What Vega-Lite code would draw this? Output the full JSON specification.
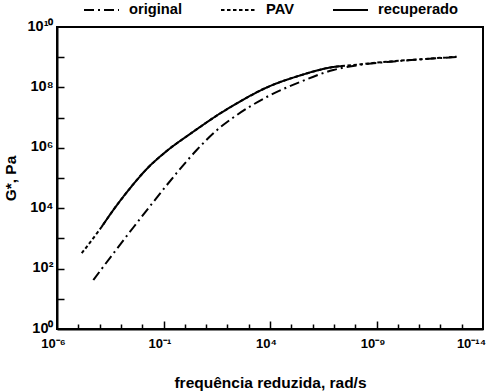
{
  "$schema": "https://vega.github.io/schema/vega-lite/v6.json",
  "width": 426,
  "height": 302,
  "autosize": {"type": "none"},
  "padding": {"left": 57, "top": 27, "right": 5, "bottom": 62},
  "config": {
    "view": {"stroke": "black", "strokeWidth": 2},
    "font": "Liberation Sans",
    "axis": {"domainColor": "black", "domainWidth": 2, "labelColor": "black", "titleColor": "black", "labelFont": "Liberation Sans", "titleFont": "Liberation Sans", "labelFontWeight": "bold", "titleFontWeight": "bold", "grid": false}
  },
  "data": {"values": [
    {"serie": "original", "w": 5.06e-5, "g": 41.9},
    {"serie": "original", "w": 4.40e-4, "g": 316},
    {"serie": "original", "w": 3.82e-3, "g": 2296},
    {"serie": "original", "w": 3.32e-2, "g": 16030},
    {"serie": "original", "w": 0.417, "g": 146600},
    {"serie": "original", "w": 3.62, "g": 845000},
    {"serie": "original", "w": 45.0, "g": 4700000},
    {"serie": "original", "w": 189.2, "g": 10070000},
    {"serie": "original", "w": 7000, "g": 48100000},
    {"serie": "original", "w": 256000, "g": 151000000},
    {"serie": "original", "w": 9380000, "g": 377000000},
    {"serie": "original", "w": 7.89e7, "g": 5.12e8},
    {"serie": "original", "w": 3.01e9, "g": 6.93e8},
    {"serie": "original", "w": 1.10e11, "g": 8.39e8},
    {"serie": "original", "w": 5.82e12, "g": 1.016e9},
    {"serie": "PAV", "w": 1.45e-5, "g": 324},
    {"serie": "PAV", "w": 1.256e-4, "g": 2438},
    {"serie": "PAV", "w": 4.40e-4, "g": 8710},
    {"serie": "PAV", "w": 2.67e-3, "g": 45600},
    {"serie": "PAV", "w": 1.626e-2, "g": 198600},
    {"serie": "PAV", "w": 0.1413, "g": 783000},
    {"serie": "PAV", "w": 1.754, "g": 2864000},
    {"serie": "PAV", "w": 5.18, "g": 4887000},
    {"serie": "PAV", "w": 45.0, "g": 13680000},
    {"serie": "PAV", "w": 189.2, "g": 25200000},
    {"serie": "PAV", "w": 7000, "g": 99300000},
    {"serie": "PAV", "w": 256000, "g": 248000000},
    {"serie": "PAV", "w": 9380000, "g": 473000000},
    {"serie": "PAV", "w": 8.15e7, "g": 5.52e8},
    {"serie": "PAV", "w": 3.01e9, "g": 7.10e8},
    {"serie": "PAV", "w": 1.10e11, "g": 8.51e8},
    {"serie": "PAV", "w": 5.82e12, "g": 1.04e9},
    {"serie": "recuperado", "w": 1.256e-4, "g": 2438},
    {"serie": "recuperado", "w": 4.40e-4, "g": 8710},
    {"serie": "recuperado", "w": 2.67e-3, "g": 45600},
    {"serie": "recuperado", "w": 1.626e-2, "g": 198600},
    {"serie": "recuperado", "w": 0.1413, "g": 783000},
    {"serie": "recuperado", "w": 1.754, "g": 2864000},
    {"serie": "recuperado", "w": 5.18, "g": 4887000},
    {"serie": "recuperado", "w": 45.0, "g": 13680000},
    {"serie": "recuperado", "w": 189.2, "g": 25200000},
    {"serie": "recuperado", "w": 7000, "g": 99300000},
    {"serie": "recuperado", "w": 256000, "g": 248000000},
    {"serie": "recuperado", "w": 9380000, "g": 473000000},
    {"serie": "recuperado", "w": 2.67e7, "g": 5.13e8}
  ]},
  "layer": [
    {
      "mark": {"type": "line", "color": "black", "strokeWidth": 2, "interpolate": "monotone", "clip": true},
      "encoding": {
        "x": {
          "field": "w", "type": "quantitative",
          "scale": {"type": "log", "domain": [1e-6, 1e14], "nice": false},
          "axis": {
            "orient": "bottom",
            "title": "frequência reduzida, rad/s",
            "titleFontSize": 15.5,
            "titlePadding": 25,
            "values": [1e-6, 1e-1, 1e4, 1e9, 1e14],
            "labelExpr": "round(log(datum.value)/LN10)==-6 ? '10⁻⁶' : round(log(datum.value)/LN10)==-1 ? '10⁻¹' : round(log(datum.value)/LN10)==4 ? '10⁴' : round(log(datum.value)/LN10)==9 ? '10⁻⁹' : '10⁻¹⁴'",
            "labelFontSize": 13,
            "labelFlush": false,
            "labelOverlap": false,
            "labelPadding": 8,
            "labelOffset": {"condition": {"test": "datum.value > 1e13", "value": -12}, "value": -4},
            "ticks": false
          }
        },
        "y": {
          "field": "g", "type": "quantitative",
          "scale": {"type": "log", "domain": [1, 1e10], "nice": false},
          "axis": {
            "orient": "left",
            "title": "G*, Pa",
            "titleFontSize": 15.5,
            "titlePadding": 9,
            "values": [1, 100, 1e4, 1e6, 1e8, 1e10],
            "labelExpr": "round(log(datum.value)/LN10)==0 ? '10⁰' : round(log(datum.value)/LN10)==2 ? '10²' : round(log(datum.value)/LN10)==4 ? '10⁴' : round(log(datum.value)/LN10)==6 ? '10⁶' : round(log(datum.value)/LN10)==8 ? '10⁸' : '10¹⁰'",
            "labelFontSize": 14.5,
            "labelFlush": false,
            "labelOverlap": false,
            "labelPadding": 4,
            "labelOffset": -1,
            "ticks": false
          }
        },
        "strokeDash": {
          "field": "serie", "type": "nominal",
          "scale": {"domain": ["original", "PAV", "recuperado"], "range": [[10, 4, 2, 4], [3.5, 2.5], [1, 0]]},
          "legend": {
            "orient": "none", "legendX": 26, "legendY": -36, "direction": "horizontal", "title": null,
            "symbolType": "stroke", "symbolSize": 1225, "symbolStrokeWidth": 2, "symbolStrokeColor": "black",
            "labelFontSize": 14.7, "labelFontWeight": "bold", "labelColor": "black", "labelOffset": 9,
            "columnPadding": 34
          }
        }
      }
    },
    {
      "mark": {"type": "line", "opacity": 0},
      "encoding": {
        "x": {
          "field": "w", "type": "quantitative",
          "scale": {"type": "log", "domain": [1e-6, 1e14], "nice": false},
          "axis": {"orient": "bottom", "offset": -8, "ticks": true, "tickSize": 8, "tickWidth": 1.5, "tickColor": "black", "domain": false, "labels": false, "title": null, "values": [1e-1, 1e4, 1e9]}
        },
        "y": {
          "field": "g", "type": "quantitative",
          "scale": {"type": "log", "domain": [1, 1e10], "nice": false},
          "axis": {"orient": "left", "offset": -7, "ticks": true, "tickSize": 7, "tickWidth": 1.5, "tickColor": "black", "domain": false, "labels": false, "title": null, "values": [10, 100, 1000, 1e4, 1e5, 1e6, 1e7, 1e8, 1e9]}
        }
      }
    },
    {
      "mark": {"type": "line", "opacity": 0},
      "encoding": {
        "x": {
          "field": "w", "type": "quantitative",
          "scale": {"type": "log", "domain": [1e-6, 1e14], "nice": false},
          "axis": {"orient": "bottom", "offset": -5, "ticks": true, "tickSize": 5, "tickWidth": 1.5, "tickColor": "black", "domain": false, "labels": false, "title": null, "values": [1e-5, 1e-4, 1e-3, 1e-2, 1, 10, 100, 1000, 1e5, 1e6, 1e7, 1e8, 1e10, 1e11, 1e12, 1e13]}
        },
        "y": {
          "field": "g", "type": "quantitative",
          "scale": {"type": "log", "domain": [1, 1e10], "nice": false},
          "axis": null
        }
      }
    }
  ],
  "resolve": {"axis": {"x": "independent", "y": "independent"}}
}
